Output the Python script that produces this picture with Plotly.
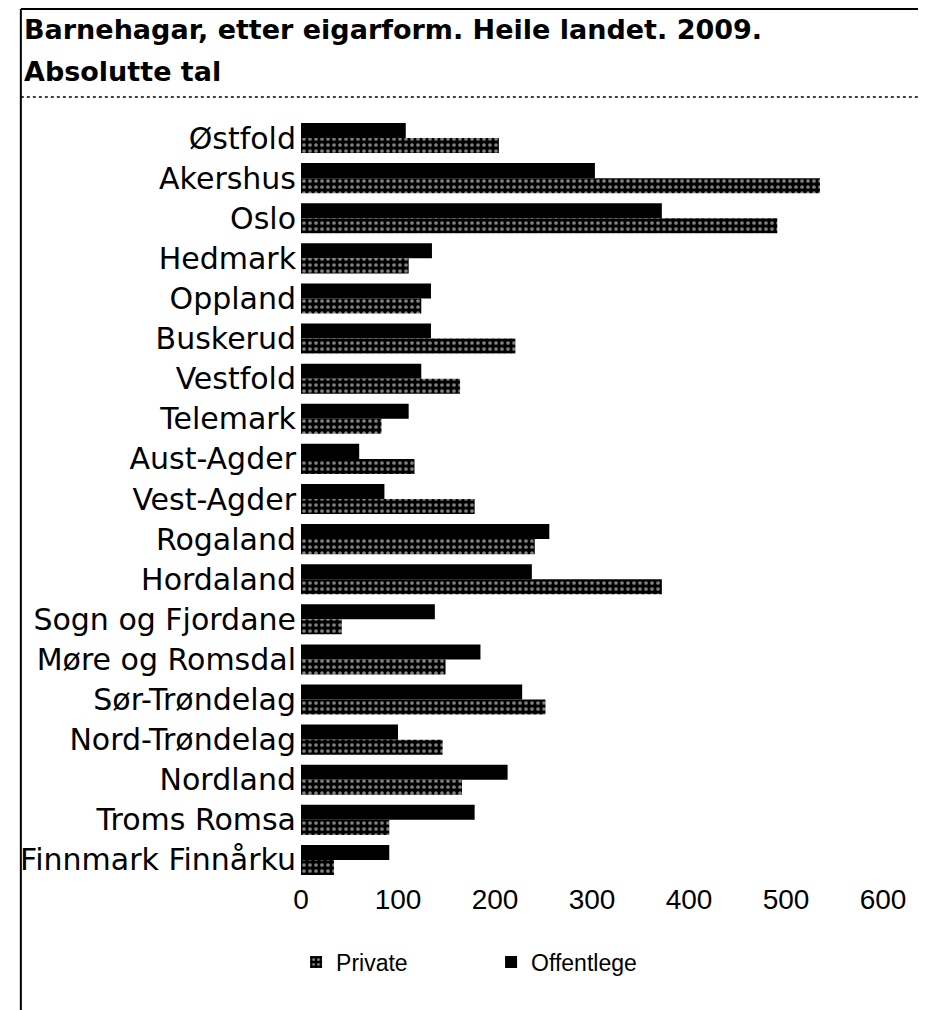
import plotly.graph_objects as go

fylke = ["Østfold", "Akershus", "Oslo", "Hedmark", "Oppland", "Buskerud", "Vestfold",
         "Telemark", "Aust-Agder", "Vest-Agder", "Rogaland", "Hordaland",
         "Sogn og Fjordane", "Møre og Romsdal", "Sør-Trøndelag", "Nord-Trøndelag",
         "Nordland", "Troms Romsa", "Finnmark Finnårku"]
private = [204, 535, 491, 111, 124, 221, 164, 83, 117, 179, 241, 372, 42, 149, 252, 146, 166, 91, 34]
offentlege = [108, 303, 372, 135, 134, 134, 124, 111, 60, 86, 256, 238, 138, 185, 228, 100, 213, 179, 91]
x_ticks = [0, 100, 200, 300, 400, 500, 600]

# page has an 8px body margin; figure coordinates = page coordinates - 8
OFF = 8
W, H = 926 - OFF, 1010 - OFF
L, T = 293 - OFF, 118 - OFF
PW, PH = 590, 762
R, B = W - L - PW, H - T - PH


def px(X):
    return (X - OFF - L) / PW


def py(Y):
    return (T + PH - (Y - OFF)) / PH


fig = go.Figure()
fig.add_trace(go.Bar(
    y=fylke, x=offentlege, name="Offentlege", orientation="h",
    marker=dict(color="black", line=dict(width=0)), legendrank=2,
))
fig.add_trace(go.Bar(
    y=fylke, x=private, name="Private", orientation="h",
    marker=dict(color="black", line=dict(width=0),
                pattern=dict(shape=".", fgcolor="white", bgcolor="black", size=6, solidity=0.3)),
    legendrank=1,
))

shapes = [
    dict(type="line", xref="paper", yref="paper", x0=px(9), x1=px(9), y0=py(9), y1=py(1010),
         line=dict(color="black", width=2)),
    dict(type="line", xref="paper", yref="paper", x0=px(9), x1=px(926), y0=py(9), y1=py(9),
         line=dict(color="black", width=2)),
    dict(type="line", xref="paper", yref="paper", x0=px(9), x1=px(926), y0=py(97), y1=py(97),
         line=dict(color="black", width=1.5, dash="dot")),
]

annotations = [
    dict(text="<b>Barnehagar, etter eigarform. Heile landet. 2009.</b>", xref="paper", yref="paper",
         x=px(10), y=py(12), xanchor="left", yanchor="top", showarrow=False,
         font=dict(family="DejaVu Sans", size=27, color="black")),
    dict(text="<b>Absolutte tal</b>", xref="paper", yref="paper",
         x=px(10), y=py(72), xanchor="left", yanchor="middle", showarrow=False,
         font=dict(family="DejaVu Sans", size=27, color="black")),
]

fig.update_layout(
    width=W, height=H,
    margin=dict(l=L, r=R, t=T, b=B, pad=0),
    paper_bgcolor="white", plot_bgcolor="white",
    barmode="group", bargap=0.25, bargroupgap=0,
    showlegend=True,
    legend=dict(orientation="h", x=px(288), xanchor="left", y=py(962), yanchor="middle",
                font=dict(family="Liberation Sans", size=23, color="black"),
                itemwidth=30, entrywidth=150, entrywidthmode="pixels", traceorder="normal"),
    shapes=shapes, annotations=annotations,
    font=dict(family="DejaVu Sans", color="black"),
)
fig.update_xaxes(range=[0, 600], tickvals=x_ticks, showgrid=False, zeroline=False,
                 showline=False, ticks="", tickfont=dict(family="Liberation Sans", size=28, color="black"))
fig.update_yaxes(autorange="reversed", showgrid=False, zeroline=False, showline=False, ticks="",
                 ticklabelstandoff=4,
                 tickfont=dict(family="DejaVu Sans", size=30, color="black"))

fig.write_html("out.html")
